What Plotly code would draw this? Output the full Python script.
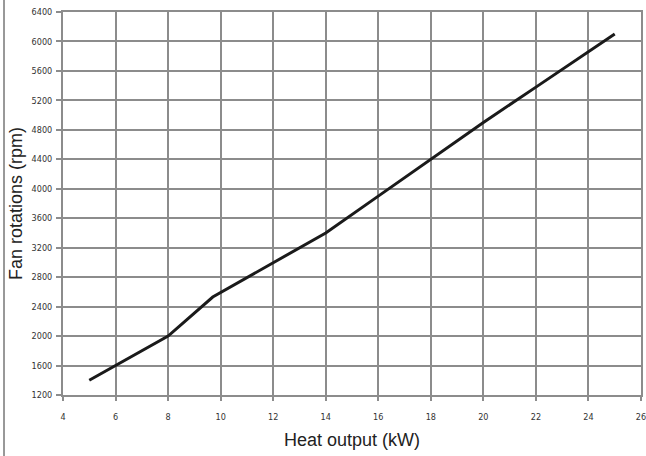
import plotly.graph_objects as go

# values
heat_output = [5, 6, 8, 9.7, 12, 14, 16, 18, 20, 22, 25]
fan_rpm = [1400, 1600, 2000, 2530, 3000, 3400, 3900, 4400, 4900, 5380, 6100]

x_ticks = list(range(4, 27, 2))
y_ticks = list(range(1200, 6401, 400))

W, H = 646, 456
ML, MR, MT, MB = 63, 5, 12, 61
plot_w = W - ML - MR
plot_h = H - MT - MB

grid_col = "#8c8c8c"
tick_font = dict(family="Liberation Sans Narrow, DejaVu Sans Condensed, Arial", size=9, color="#333333")

fig = go.Figure()
fig.add_trace(go.Scatter(
    x=heat_output, y=fan_rpm,
    mode="lines",
    line=dict(color="#1a1a1a", width=3),
    showlegend=False,
))

fig.update_layout(
    width=W, height=H,
    margin=dict(l=ML, r=MR, t=MT, b=MB),
    paper_bgcolor="white",
    plot_bgcolor="white",
    font=dict(family="Liberation Sans, Arial", color="#222222"),
)

fig.update_xaxes(
    range=[4, 26],
    tickvals=x_ticks,
    tickfont=tick_font,
    showgrid=True, gridcolor=grid_col, gridwidth=2,
    showline=True, linecolor=grid_col, linewidth=2, mirror=True,
    ticks="outside", ticklen=4, tickcolor=grid_col, tickwidth=2,
    ticklabelstandoff=8,
    ticklabeloverflow="allow",
    zeroline=False,
    automargin=False,
    title=dict(text="Heat output (kW)", font=dict(size=18), standoff=13),
)
fig.update_yaxes(
    range=[1200, 6400],
    tickvals=y_ticks,
    tickfont=tick_font,
    showgrid=True, gridcolor=grid_col, gridwidth=2,
    showline=True, linecolor=grid_col, linewidth=2, mirror=True,
    ticks="outside", ticklen=5, tickcolor=grid_col, tickwidth=2,
    ticklabelstandoff=2,
    zeroline=False,
    automargin=False,
    title=dict(text="Fan rotations (rpm)", font=dict(size=18), standoff=4),
)

# thin frame line at the left edge of the picture
fx = (4 - ML) / plot_w
fig.add_shape(type="line", xref="paper", yref="paper",
              x0=fx, x1=fx, y0=-MB / plot_h - 0.01, y1=1 + MT / plot_h + 0.01,
              line=dict(color="#333333", width=1))

# drop the browser's default page margin so the figure sits at 0,0
fig.write_html("out.html", config={"displayModeBar": False},
               post_script="document.body.style.margin='0';")
